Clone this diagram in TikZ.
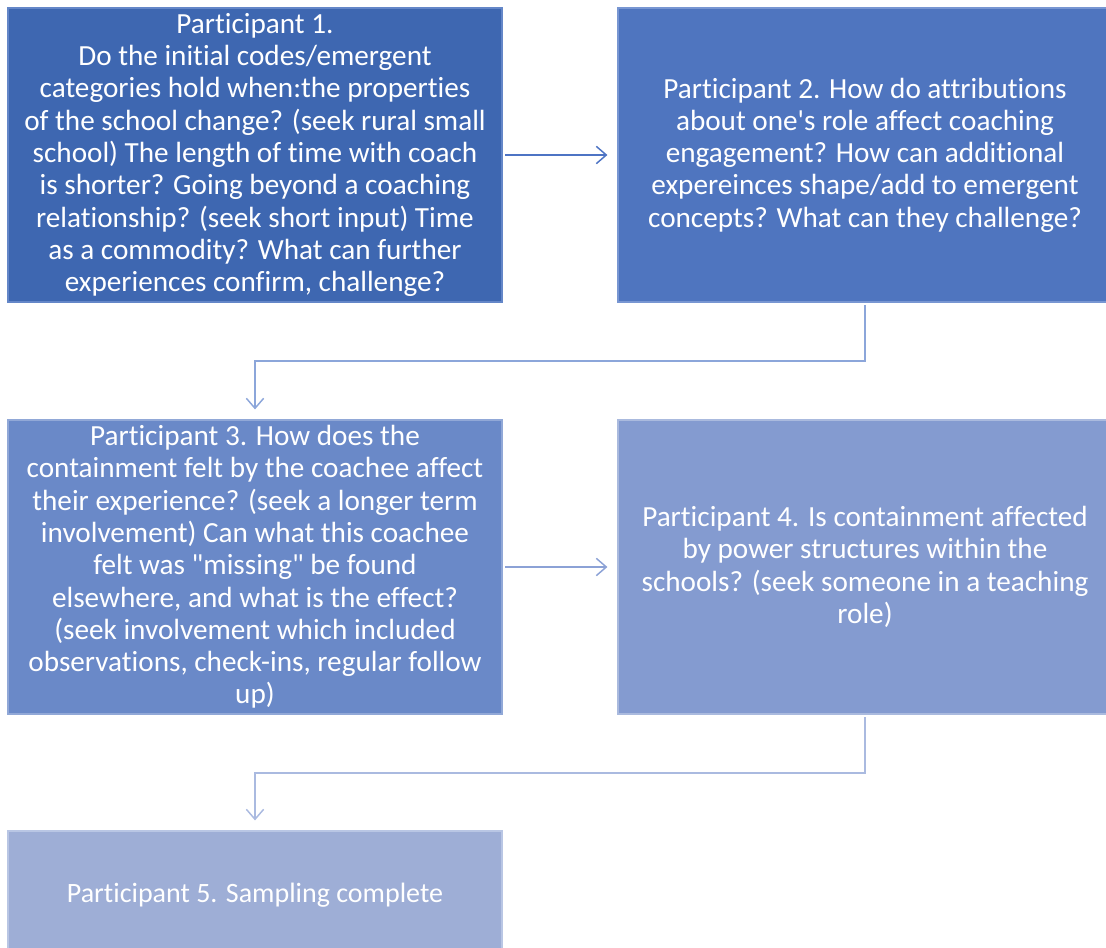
\documentclass[tikz,border=0pt]{standalone}
\usepackage{fontspec}
\newfontfamily\boxfont{Carlito}[RawFeature=-liga]
\usetikzlibrary{arrows.meta}
\definecolor{fillA}{RGB}{62,103,177}
\definecolor{fillB}{RGB}{79,117,191}
\definecolor{fillC}{RGB}{106,137,200}
\definecolor{fillD}{RGB}{132,155,208}
\definecolor{fillE}{RGB}{158,174,214}
\definecolor{edgeA}{RGB}{100,135,200}
\definecolor{edgeB}{RGB}{120,150,210}
\definecolor{edgeC}{RGB}{145,168,215}
\definecolor{edgeD}{RGB}{170,186,222}
\definecolor{edgeE}{RGB}{185,198,228}
\definecolor{linkA}{RGB}{78,116,196}
\definecolor{linkB}{RGB}{140,166,218}
\definecolor{linkC}{RGB}{140,162,214}
\definecolor{linkD}{RGB}{170,186,224}
\tikzset{
  stagebox/.style={rectangle, inner sep=0pt, line width=0.9pt,
    minimum width=370.5pt, minimum height=220.5pt,
    align=center, text=white,
    font=\boxfont\fontsize{21.9}{24.2}\selectfont},
  link/.style={line width=1.1pt, -{Straight Barb[length=7.5pt,width=13pt,line width=1.1pt]},
    shorten <=2pt, shorten >=7.5pt}
}
\begin{document}
\begin{tikzpicture}[x=0.75pt,y=-0.75pt]
\useasboundingbox (0,0) rectangle (1106,948);
\clip (0,0) rectangle (1106,948);

\node[stagebox, fill=fillA, draw=edgeA] (b1) at (255,155)
  {Participant 1.\\Do the initial codes/emergent\\categories hold when:the properties\\of the school change? (seek rural small\\school) The length of time with coach\\is shorter? Going beyond a coaching\\relationship? (seek short input) Time\\as a commodity? What can further\\experiences confirm, challenge?};

\node[stagebox, fill=fillB, draw=edgeB] (b2) at (865,155)
  {Participant 2. How do attributions\\about one's role affect coaching\\engagement? How can additional\\expereinces shape/add to emergent\\concepts? What can they challenge?};

\node[stagebox, fill=fillC, draw=edgeC] (b3) at (255,567)
  {Participant 3. How does the\\containment felt by the coachee affect\\their experience? (seek a longer term\\involvement) Can what this coachee\\felt was "missing" be found\\elsewhere, and what is the effect?\\(seek involvement which included\\observations, check-ins, regular follow\\up)};

\node[stagebox, fill=fillD, draw=edgeD] (b4) at (865,567)
  {Participant 4. Is containment affected\\by power structures within the\\schools? (seek someone in a teaching\\role)};

\node[stagebox, fill=fillE, draw=edgeE, minimum height=96pt,
      font=\boxfont\fontsize{21}{24.2}\selectfont] (b5) at (255,895)
  {Participant 5. Sampling complete};

% elbow levels of the downward connectors
\coordinate (k1) at (0,361);
\coordinate (k2) at (0,773);

\draw[link, linkA] (b1) -- (b2);
\draw[link, linkB] (b2.south) -- (b2.south |- k1) -| (b3.north);
\draw[link, linkC] (b3) -- (b4);
\draw[link, linkD] (b4.south) -- (b4.south |- k2) -| (b5.north);
\end{tikzpicture}
\end{document}
